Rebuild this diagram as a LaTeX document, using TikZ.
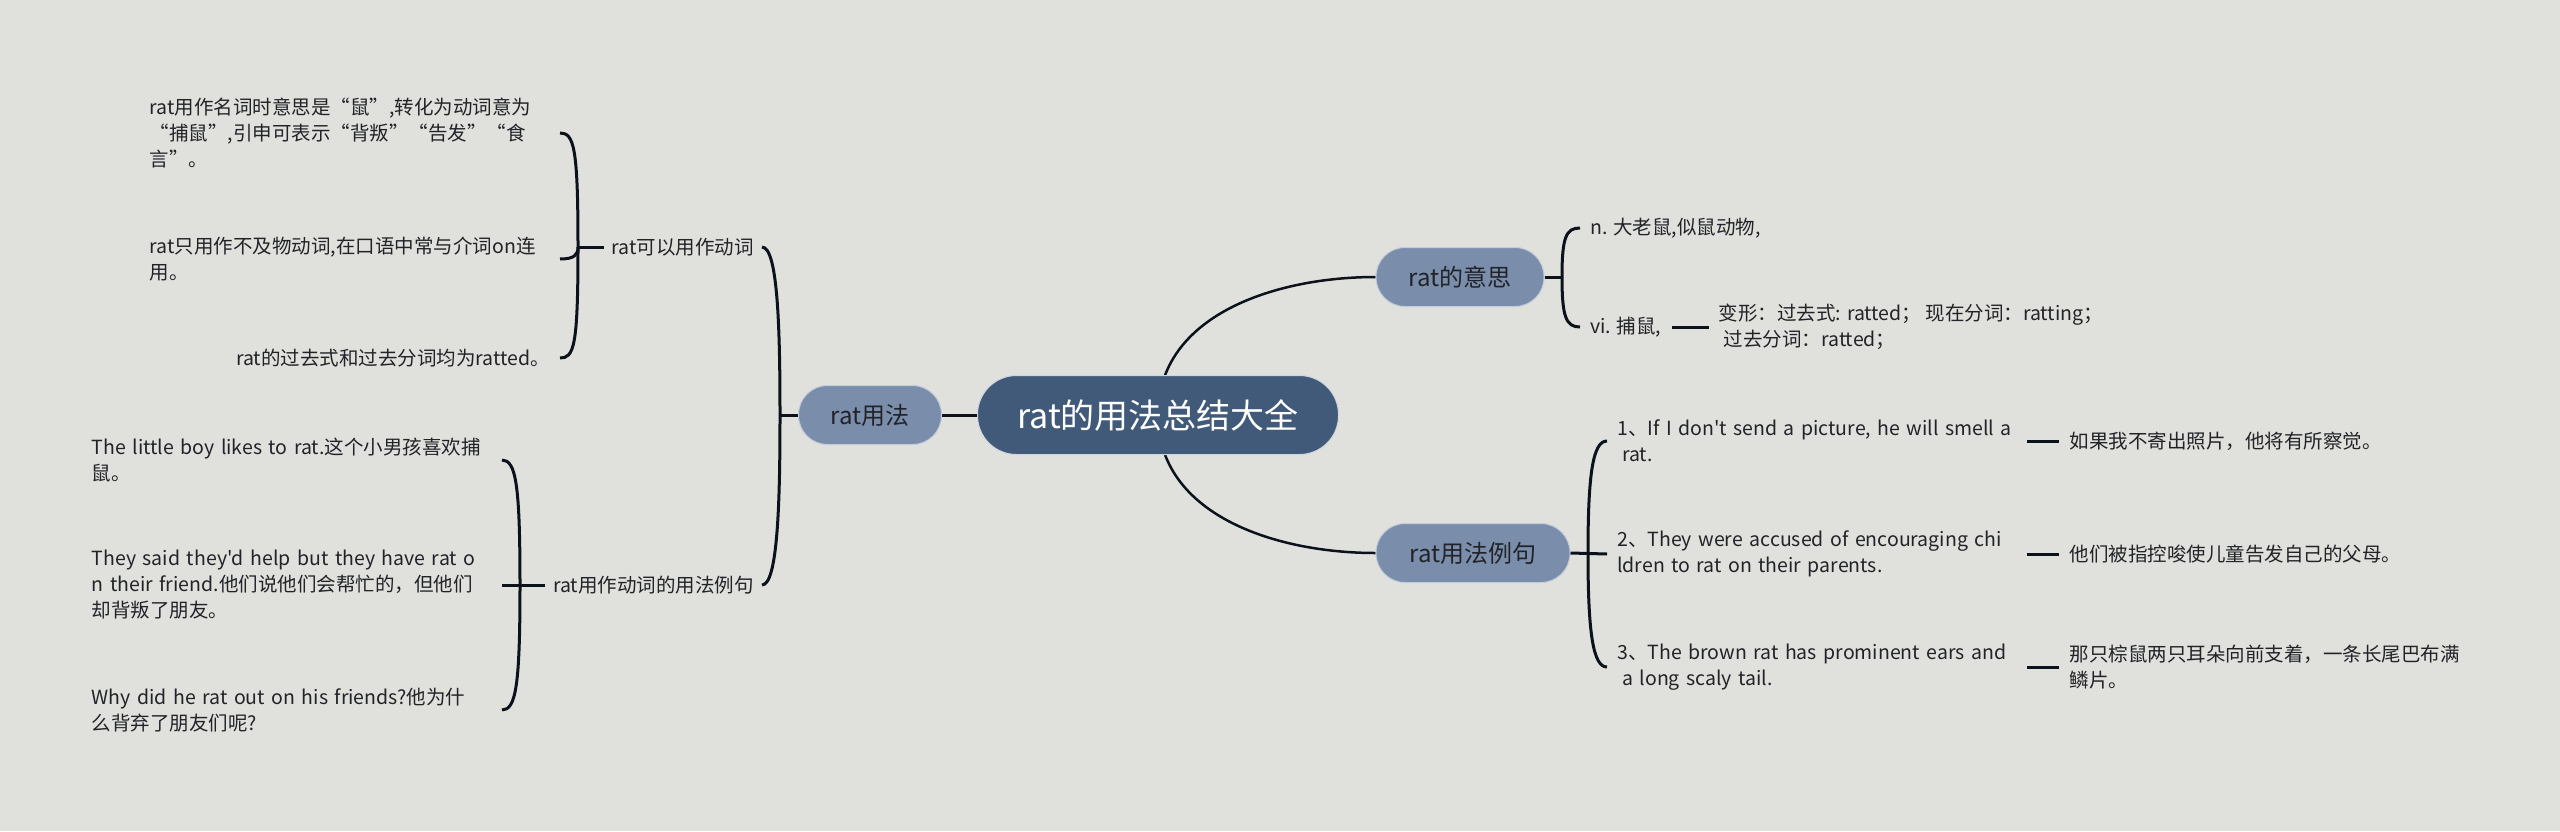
\documentclass[tikz,border=0pt]{standalone}
\usepackage{fontspec}
\setmainfont{Noto Sans CJK SC}[Ligatures=TeXOff]
\usetikzlibrary{positioning,backgrounds}
\definecolor{paper}{RGB}{224,225,220}
\definecolor{rootblue}{RGB}{66,90,121}
\definecolor{subblue}{RGB}{122,142,172}
\definecolor{ink}{RGB}{33,35,40}
\definecolor{wirecol}{RGB}{12,18,28}
\begin{document}
\begin{tikzpicture}[x=1pt,y=-1pt,
  every node/.style={text=ink,font=\fontsize{19.5}{26}\selectfont},
  rootbox/.style={fill=rootblue,draw=white!75!rootblue,line width=1pt,text=white,font=\fontsize{34}{40}\selectfont,minimum width=361pt,minimum height=79pt,rounded corners=39pt},
  branchbox/.style={fill=subblue,draw=white!55!subblue,line width=1pt,font=\fontsize{24}{30}\selectfont,minimum height=59pt,rounded corners=29pt},
  tagbox/.style={inner xsep=8pt},
  leafbox/.style={align=left,inner xsep=10pt,inner ysep=2pt},
  wide/.style={text width=400pt},
  wire/.style={draw=wirecol,line width=3pt},
  arcwire/.style={draw=wirecol,line width=2.5pt}]
% rat mind map: centre, two branches right, one branch left
\useasboundingbox (0,0) rectangle (2560,831);
\node[rootbox] (root) at (1158,415) {rat的用法总结大全};
\node[branchbox,minimum width=143pt] (usage) at (870,415) {rat用法};
\node[branchbox,minimum width=168pt] (meaning) at (1460,277) {rat的意思};
\node[branchbox,minimum width=194pt] (example) at (1473,553) {rat用法例句};

% left branch
\node[tagbox,anchor=east] (verb) at (762,247) {rat可以用作动词};
\node[tagbox,anchor=east] (verbex) at (762,585) {rat用作动词的用法例句};
\node[leafbox,wide,anchor=east] (noun) at (560,133) {rat用作名词时意思是“鼠”,转化为动词意为\\“捕鼠”,引申可表示“背叛”“告发”“食\\言”。};
\node[leafbox,wide,anchor=east] (intr) at (560,259) {rat只用作不及物动词,在口语中常与介词on连\\用。};
\node[leafbox,anchor=east] (past) at (560,358) {rat的过去式和过去分词均为ratted。};
\node[leafbox,wide,anchor=east] (sa) at (502,460) {The little boy likes to rat.这个小男孩喜欢捕\\鼠。};
\node[leafbox,wide,anchor=east] (sb) at (502,585) {They said they'd help but they have rat o\\n their friend.他们说他们会帮忙的，但他们\\却背叛了朋友。};
\node[leafbox,wide,anchor=east] (sc) at (502,710) {Why did he rat out on his friends?他为什\\么背弃了朋友们呢?};

% right branches
\node[leafbox,anchor=west] (nmean) at (1580,228) {n. 大老鼠,似鼠动物,};
\node[leafbox,anchor=west] (vmean) at (1580,327) {vi. 捕鼠,};
\node[leafbox,right=37pt of vmean] (forms) {变形：过去式: ratted；\ 现在分词：ratting；\\\hspace*{5pt}过去分词：ratted；};
\node[leafbox,wide,anchor=west] (ex1) at (1607,441) {1、If I don't send a picture, he will smell a\\\hspace*{5pt}rat.};
\node[leafbox,wide,anchor=west] (ex2) at (1607,554) {2、They were accused of encouraging chi\\ldren to rat on their parents.};
\node[leafbox,wide,anchor=west] (ex3) at (1607,667) {3、The brown rat has prominent ears and\\\hspace*{5pt}a long scaly tail.};
\node[leafbox,right=32pt of ex1] (tr1) {如果我不寄出照片，他将有所察觉。};
\node[leafbox,right=32pt of ex2] (tr2) {他们被指控唆使儿童告发自己的父母。};
\node[leafbox,right=32pt of ex3] (tr3) {那只棕鼠两只耳朵向前支着，一条长尾巴布满\\鳞片。};

\coordinate (uspine) at (780,415);
\coordinate (vspine) at (578,247);
\coordinate (xspine) at (520,585);
\coordinate (mspine) at (1562,277);
\coordinate (espine) at (1588,553);

\begin{scope}[on background layer]
\fill[paper] (0,0) rectangle (2560,831);
\draw[arcwire] (root.center) .. controls +(0,-100) and +(-100,0) .. (meaning.west);
\draw[arcwire] (root.center) .. controls +(0,100) and +(-100,0) .. (example.west);
\draw[wire] (root) -- (usage);
\end{scope}

% brackets
\draw[wire] (usage.west) -- (uspine);
\draw[wire] (uspine) .. controls +(0,-85) and +(16,0) .. (verb.east);
\draw[wire] (uspine) .. controls +(0,85) and +(16,0) .. (verbex.east);
\draw[wire] (verb.west) -- (vspine);
\foreach \n/\d in {noun/-100,intr/8,past/100}
  \draw[wire] (vspine) .. controls +(0,\d) and +(14,0) .. (\n.east);
\draw[wire] (verbex.west) -- (xspine);
\foreach \n/\d in {sa/-100,sb/0,sc/100}
  \draw[wire] (xspine) .. controls +(0,\d) and +(14,0) .. (\n.east);
\draw[wire] (meaning.east) -- (mspine);
\draw[wire] (mspine) .. controls +(0,-40) and +(-14,0) .. (nmean.west);
\draw[wire] (mspine) .. controls +(0,40) and +(-14,0) .. (vmean.west);
\draw[wire] (example.east) -- (ex2.west);
\draw[wire] (espine) .. controls +(0,-80) and +(-14,0) .. (ex1.west);
\draw[wire] (espine) .. controls +(0,80) and +(-14,0) .. (ex3.west);
\draw[wire] (vmean) -- (forms);
\foreach \i in {1,2,3} \draw[wire] (ex\i) -- (tr\i);
\end{tikzpicture}
\end{document}
